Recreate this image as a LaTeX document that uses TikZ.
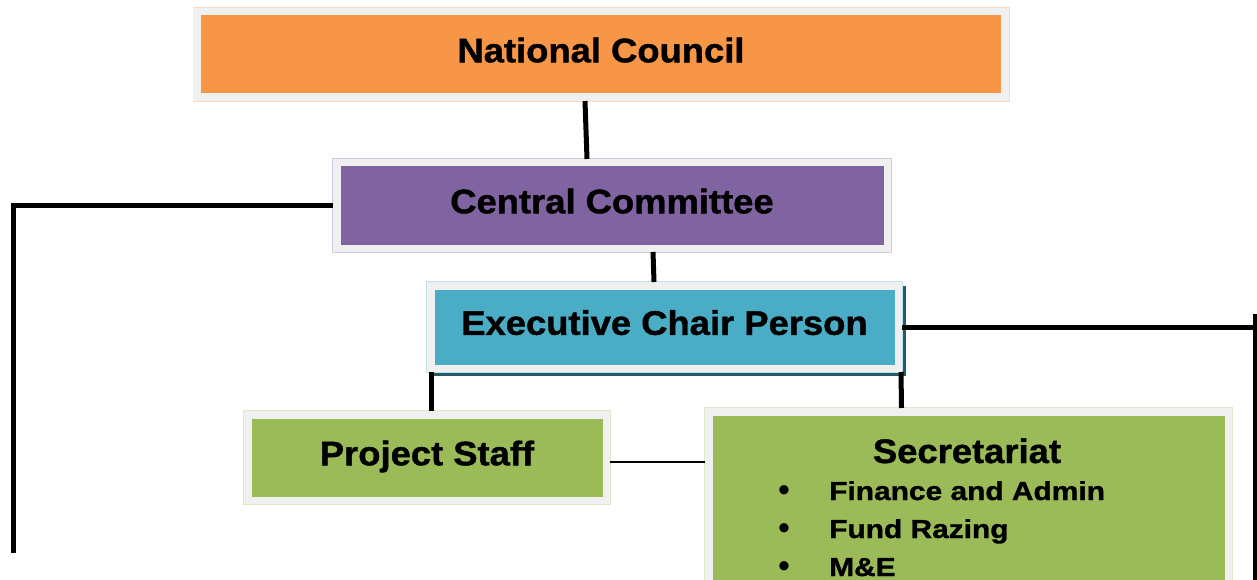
\documentclass[tikz,border=0pt]{standalone}
\usepackage{fontspec}
\setmainfont{Liberation Sans}
\newfontfamily\titlefont{Liberation Sans}[FakeStretch=1.07, BoldFeatures={FakeBold=1.2}]
\newfontfamily\dutyfont{Liberation Sans}[FakeStretch=1.15, BoldFeatures={FakeBold=1.2}]

\definecolor{council}{HTML}{F79646}
\definecolor{committee}{HTML}{8064A2}
\definecolor{chair}{HTML}{4BACC6}
\definecolor{staff}{HTML}{9BBB59}
\definecolor{framegray}{HTML}{F0F0F0}
\definecolor{chairshadow}{HTML}{235B6A}

\begin{document}
\begin{tikzpicture}[x=1pt, y=-1pt,
  box/.style={fill=#1, draw=framegray, line width=7.5pt, inner sep=0pt,
    preaction={draw=#1!35, line width=9pt},
    font=\titlefont\fontsize{34}{40}\selectfont\bfseries, text height=24pt, text depth=8.4pt},
  shadowed/.style={preaction={draw=chairshadow, fill=chairshadow, line width=7.5pt,
    transform canvas={shift={(4pt,-4pt)}}}},
  item/.style={font=\dutyfont\fontsize{26}{30}\selectfont\bfseries, inner sep=0pt},
  link/.style={line width=5pt},
  thin link/.style={line width=1.5pt}]
\useasboundingbox (0,0) rectangle (1257,580);
\clip (0,0) rectangle (1257,580);

% the boxes
\node[box=council, minimum width=808pt, minimum height=85.5pt] (nc) at (601,54.5) {National Council};
\node[box=committee, minimum width=550.5pt, minimum height=85.5pt] (cc) at (612,205.5) {Central Committee};
\node[shadowed, box=chair, minimum width=467.5pt, minimum height=82.5pt] (ecp) at (664.5,327) {Executive Chair Person};
\node[box=staff, minimum width=358.5pt, minimum height=85.5pt] (ps) at (427,457.5) {Project Staff};
\node[box=staff, minimum width=519.5pt, minimum height=240pt] (sec) at (968.5,531.75) {};

% secretariat contents
\node[font=\titlefont\fontsize{34}{40}\selectfont\bfseries, inner sep=0pt, anchor=base] (sectitle) at (967,463) {Secretariat};
\foreach \duty [count=\i] in {Finance and Admin, Fund Razing, M\&E}{
  \node[item, font=\fontsize{34}{30}\selectfont, anchor=base] (dot\i) at (784,463+38*\i) {\textbullet};
  \node[item, anchor=base west] (duty\i) at (829,462+38*\i) {\duty};
}

% side lines
\coordinate (leftend) at (13,553);
\coordinate (righttop) at (1255,314);
\coordinate (rightend) at (1255,590);

% connectors
\draw[link] ([xshift=-16pt]nc.south) -- ([xshift=-25pt]cc.north);
\draw[link] ([xshift=41pt]cc.south) -- ([xshift=-10.5pt]ecp.north);
\draw[link] (cc.west) -| (leftend);
\draw[link] (ecp.east) -- (ecp.east -| righttop);
\draw[link] (righttop) -- (rightend);
\draw[link] ([xshift=-233.5pt]ecp.south) -- ([xshift=4pt]ps.north);
\draw[link] ([xshift=236.5pt]ecp.south) -- ([xshift=-67pt]sec.north);
\draw[thin link] ([yshift=-4.5pt]ps.east) -- ([yshift=-4.5pt]ps.east -| sec.west);
\end{tikzpicture}
\end{document}
